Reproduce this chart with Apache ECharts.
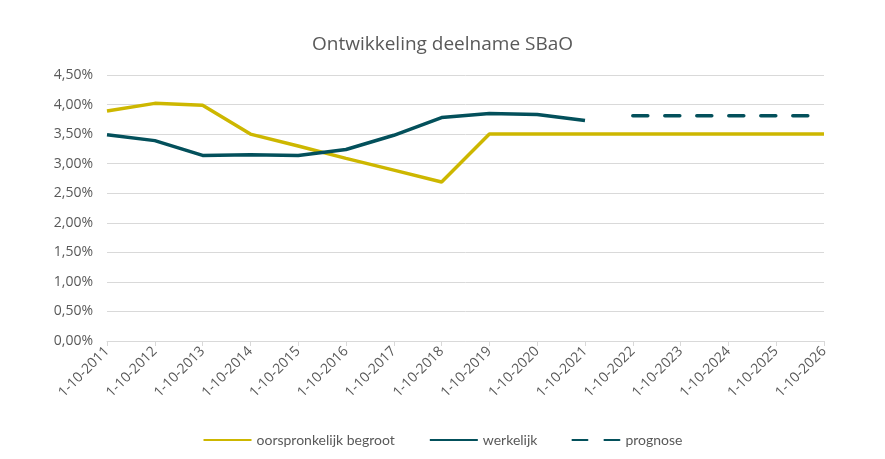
<!DOCTYPE html>
<html lang="nl">
<head>
    <meta charset="UTF-8">
    <title>Ontwikkeling deelname SBaO</title>
    <script src="https://cdn.jsdelivr.net/npm/echarts@6/dist/echarts.min.js"></script>
    <style>
        html, body { padding: 0; margin: 0; width: 100%; height: 100%; background: #fff; }
        #chart { width: 885px; height: 459px; }
    </style>
</head>
<body>
    <div id="chart"></div>
    <script type="text/javascript">
        // categorieen (peildatum)
        var categories = ['1-10-2011', '1-10-2012', '1-10-2013', '1-10-2014', '1-10-2015', '1-10-2016',
            '1-10-2017', '1-10-2018', '1-10-2019', '1-10-2020', '1-10-2021', '1-10-2022',
            '1-10-2023', '1-10-2024', '1-10-2025', '1-10-2026'];
        // percentages
        var begroot = [3.89, 4.02, 3.99, 3.50, 3.30, 3.09, 2.89, 2.69, 3.50, 3.50, 3.50, 3.50, 3.50, 3.50, 3.50, 3.50];
        var werkelijk = [3.49, 3.39, 3.14, 3.15, 3.14, 3.24, 3.48, 3.78, 3.85, 3.83, 3.73, null, null, null, null, null];
        var prognose = [null, null, null, null, null, null, null, null, null, null, null, 3.81, 3.81, 3.81, 3.81, 3.81];

        var kleurGeel = '#CDB700';
        var kleurGroen = '#03505B';
        var tekstKleur = '#595959';

        var chart = echarts.init(document.getElementById('chart'));
        var option = {
            animation: false,
            title: {
                text: 'Ontwikkeling deelname SBaO',
                left: 'center', top: 30,
                textStyle: { color: tekstKleur, fontSize: 19, fontWeight: 'normal', fontFamily: 'Open Sans' }
            },
            legend: {
                bottom: 7, left: 'center',
                itemWidth: 48, itemHeight: 4, itemGap: 34,
                itemStyle: { opacity: 0 },
                textStyle: { color: tekstKleur, fontSize: 14, fontFamily: 'Lato' },
                data: ['oorspronkelijk begroot', 'werkelijk', 'prognose']
            },
            grid: { left: 107, right: 61, top: 75, bottom: 118 },
            xAxis: {
                type: 'category',
                boundaryGap: false,
                data: categories,
                axisLine: { lineStyle: { color: '#D9D9D9' } },
                axisTick: { show: true, lineStyle: { color: '#D9D9D9' } },
                axisLabel: { rotate: 45, color: tekstKleur, fontSize: 14, fontFamily: 'Open Sans', interval: 0, margin: 8 }
            },
            yAxis: {
                type: 'value',
                min: 0, max: 4.5, interval: 0.5,
                axisLine: { show: false },
                axisTick: { show: false },
                splitLine: { lineStyle: { color: '#D9D9D9' } },
                axisLabel: {
                    color: tekstKleur, fontSize: 14, fontFamily: 'Open Sans', margin: 14,
                    formatter: function (v) { return v.toFixed(2).replace('.', ',') + '%'; }
                }
            },
            series: [
                {
                    name: 'oorspronkelijk begroot', type: 'line', data: begroot,
                    symbol: 'none', color: kleurGeel,
                    lineStyle: { width: 3.5, color: kleurGeel }
                },
                {
                    name: 'werkelijk', type: 'line', data: werkelijk,
                    symbol: 'none', color: kleurGroen,
                    lineStyle: { width: 3.5, color: kleurGroen }
                },
                {
                    name: 'prognose', type: 'line', data: prognose,
                    symbol: 'none', color: kleurGroen,
                    lineStyle: { width: 3.5, color: kleurGroen, type: [15, 17], cap: 'round' }
                }
            ]
        };
        chart.setOption(option);
    </script>
</body>
</html>
